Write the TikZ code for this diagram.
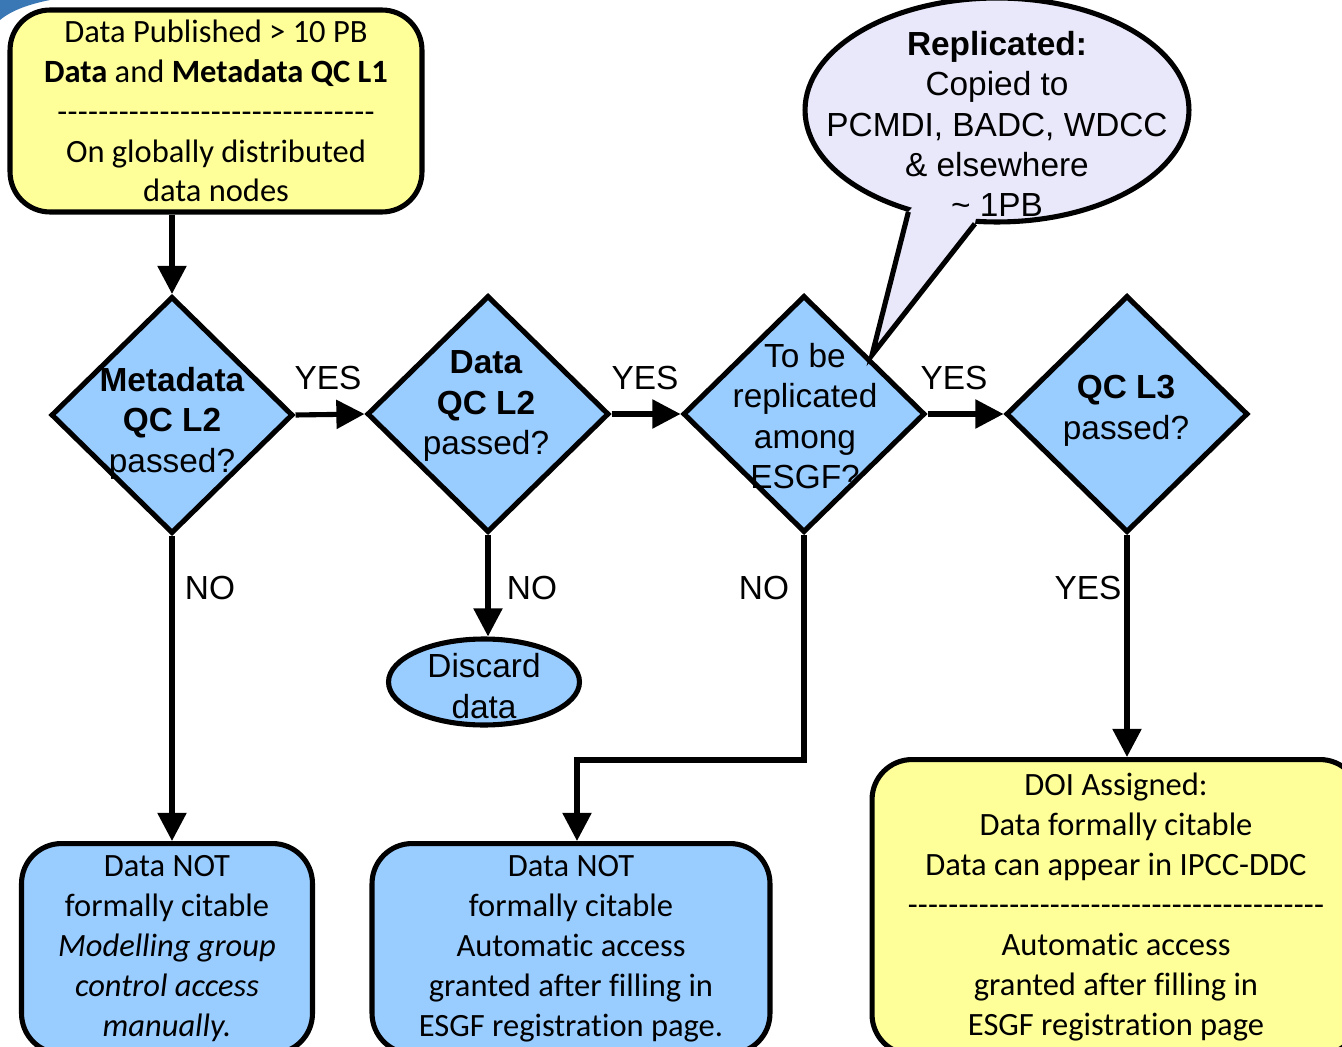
\documentclass[tikz,border=0pt]{standalone}
\usepackage{fontspec}
\setmainfont[Ligatures={TeX,NoCommon}]{Carlito}
\newfontfamily\arialfont{Liberation Sans}
\usetikzlibrary{shapes.geometric,arrows.meta}
\definecolor{boxyellow}{HTML}{FFFF99}
\definecolor{boxblue}{HTML}{99CCFF}
\definecolor{bubble}{HTML}{E8E8FA}
\definecolor{swoosh}{HTML}{3A78B5}
\newcommand\hyphenrule[1]{\hbox to #1{\xleaders\hbox{-}\hfill}}
\tikzset{
  box/.style  = {draw, line width=2.9pt, rounded corners=0.8cm, fill=#1,
    align=center, inner sep=0pt, font=\fontsize{18.5}{22.7}\selectfont},
  dia/.style  = {diamond, draw, line width=2.9pt, fill=boxblue, inner sep=0pt,
    minimum width=4.84cm, minimum height=4.74cm},
  atext/.style = {align=center, inner sep=0pt,
    font=\arialfont\fontsize{19}{23}\selectfont},
  arr/.style  = {line width=2.9pt, -{Triangle[length=16pt,width=16pt]}}
}

\begin{document}
\begin{tikzpicture}[x=0.02cm, y=-0.02cm]
\useasboundingbox (0,0) rectangle (1342,1047);
\clip (0,0) rectangle (1342,1047);
\fill[swoosh] (0,0) -- (50,0) .. controls (30,4) and (12,10) .. (0,20) -- cycle; % slide corner

% start box
\node[box=boxyellow, minimum width=8.24cm, minimum height=4.04cm] (start) at (216,111)
  {Data Published > 10 PB\\ \textbf{Data} and \textbf{Metadata QC L1}\\
   \hyphenrule{6.36cm}\\ On globally distributed\\ data nodes};

% decisions
\node[dia] (meta) at (172,415) {};
\node[dia] (qcdata) at (488,414) {};
\node[dia] (repl) at (804,414) {};
\node[dia] (qcthree) at (1127,414) {};
\node[atext] at (172,423) {\textbf{Metadata}\\ \textbf{QC L2}\\ passed?};
\node[atext] at (486,406) {\textbf{Data}\\ \textbf{QC L2}\\ passed?};
\node[atext] at (805,416) {To be\\ replicated\\ among\\ ESGF?};
\node[atext] at (1126,411) {\textbf{QC L3}\\ passed?};

\node[ellipse, draw, line width=2.9pt, fill=boxblue, inner sep=0pt,
  minimum width=3.82cm, minimum height=1.72cm] (discard) at (484,682) {};
\node[atext] at (484,686) {Discard\\ data};

% outcomes
\node[box=boxblue, anchor=north, minimum width=5.82cm, minimum height=4.2cm] (manual) at (167,841)
  {Data NOT\\ formally citable\\ \textit{Modelling group}\\ \textit{control access}\\ \textit{manually.}};
\node[box=boxblue, anchor=north, minimum width=7.96cm, minimum height=4.2cm] (auto) at (571,841)
  {Data NOT\\ formally citable\\ Automatic access\\ granted after filling in\\ ESGF registration page.};
\node[box=boxyellow, anchor=north, minimum width=9.76cm, minimum height=5.9cm] (doi) at (1116,757)
  {DOI Assigned:\\ Data formally citable\\ Data can appear in IPCC-DDC\\
   \hyphenrule{8.34cm}\\ Automatic access\\ granted after filling in\\ ESGF registration page};

% connectors
\draw[arr] (start.south -| meta.north) -- (meta.north);
\draw[arr] (meta.east) -- (qcdata.west);
\draw[arr] (qcdata.east) -- (repl.west);
\draw[arr] (repl.east) -- (qcthree.west);
\draw[arr] (meta.south) -- (meta.south |- manual.north);
\draw[arr] (qcdata.south) -- (qcdata.south |- discard.north);
\coordinate (elbow) at (577,760);
\draw[arr] (repl.south) |- (elbow) -- (elbow |- auto.north);
\draw[arr] (qcthree.south) -- (qcthree.south |- doi.north);

\node[atext] at (328,378) {YES};
\node[atext] at (645,378) {YES};
\node[atext] at (954,378) {YES};
\node[atext] at (1088,588) {YES};
\node[atext] at (210,588) {NO};
\node[atext] at (532,588) {NO};
\node[atext] at (764,588) {NO};

% callout
\node[ellipse, draw, line width=2.9pt, fill=bubble, inner sep=0pt,
  minimum width=7.68cm, minimum height=4.48cm] (bubble) at (997,110) {};
\coordinate (tip) at (872,355);
\fill[bubble] (bubble.229) -- (tip) -- (bubble.259) -- (bubble.center) -- cycle;
\draw[line width=2.9pt] (bubble.229) -- (tip) -- (bubble.259);
\node[atext] at (997,124) {\textbf{Replicated:}\\ Copied to\\ PCMDI, BADC, WDCC\\ \& elsewhere\\ \textasciitilde{} 1PB};
\end{tikzpicture}
\end{document}
